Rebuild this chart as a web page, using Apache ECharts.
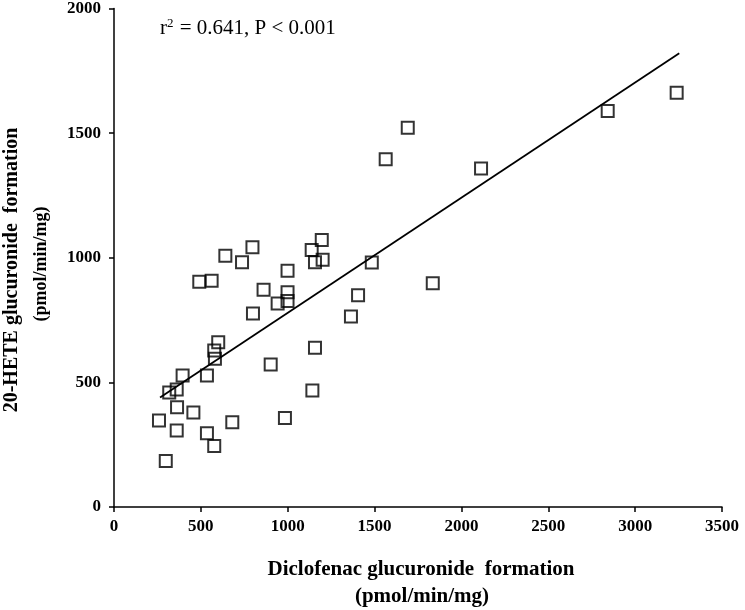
<!DOCTYPE html>
<html>
<head>
<meta charset="utf-8">
<script src="https://cdn.jsdelivr.net/npm/echarts@6/dist/echarts.min.js"></script>
<style>html,body{margin:0;padding:0;background:#fff;}#c{width:745px;height:610px;}</style>
</head>
<body>
<div id="c"></div>
<script>
// Diclofenac glucuronide formation (pmol/min/mg)
const diclofenac = [3239, 2842, 2113, 1691, 1564, 1484, 1835, 1405, 1364, 1196, 1138, 1157, 1201, 999, 861, 999, 942, 999, 797, 641, 737, 491, 562, 800, 1157, 1142, 902, 984, 600, 577, 581, 395, 535, 361, 318, 363, 457, 259, 681, 361, 535, 577, 298];
// 20-HETE glucuronide formation (pmol/min/mg)
const hete = [1662, 1589, 1358, 1522, 1395, 981, 898, 850, 764, 1071, 1031, 982, 992, 948, 872, 862, 816, 826, 1042, 1008, 982, 904, 908, 776, 639, 467, 572, 357, 661, 628, 595, 528, 528, 471, 459, 400, 379, 347, 340, 307, 296, 245, 185];
// regression line endpoints
const trendX = [265, 3254];
const trendY = [439, 1820];
const xTicks = [0, 500, 1000, 1500, 2000, 2500, 3000, 3500];
const yTicks = [0, 500, 1000, 1500, 2000];

const chart = echarts.init(document.getElementById('c'), null, {renderer: 'canvas'});
const serif = '"Liberation Serif", "Times New Roman", serif';
const axisCommon = {
  axisLine: {show: true, onZero: false, lineStyle: {color: '#000', width: 1.5}},
  axisTick: {show: true, inside: false, length: 5, lineStyle: {color: '#000', width: 1.5}},
  splitLine: {show: false}
};
const labelStyle = {color: '#000', fontFamily: serif, fontWeight: 'bold', fontSize: 17, formatter: v => String(v)};
chart.setOption({
  animation: false,
  backgroundColor: '#fff',
  grid: {left: 114, right: 23, top: 7, bottom: 103, containLabel: false},
  xAxis: Object.assign({type: 'value', min: xTicks[0], max: xTicks[xTicks.length-1], interval: 500}, axisCommon,
    {axisLabel: Object.assign({}, labelStyle, {margin: 11})}),
  yAxis: Object.assign({type: 'value', min: yTicks[0], max: yTicks[yTicks.length-1], interval: 500}, axisCommon,
    {axisLabel: Object.assign({}, labelStyle, {margin: 13})}),
  series: [
    {
      type: 'scatter',
      data: diclofenac.map((x, i) => [x, hete[i]]),
      symbol: 'rect',
      symbolSize: 12,
      itemStyle: {color: 'rgba(0,0,0,0)', borderColor: '#000', borderWidth: 2},
      z: 3
    },
    {
      type: 'line',
      data: trendX.map((x, i) => [x, trendY[i]]),
      showSymbol: false,
      symbol: 'none',
      lineStyle: {color: '#000', width: 1.8},
      z: 2
    }
  ],
  graphic: [
    {
      type: 'text', left: 160, top: 17,
      style: {
        text: '{r|r}{s|2}{r| = 0.641, P < 0.001}',
        rich: {
          r: {fontFamily: serif, fontSize: 21, fill: '#000'},
          s: {fontFamily: serif, fontSize: 13, fill: '#000', verticalAlign: 'top', padding: [0, 1, 9, 0]}
        }
      }
    },
    {
      type: 'text', x: 421, y: 570,
      style: {text: 'Diclofenac glucuronide  formation', fontFamily: serif, fontWeight: 'bold', fontSize: 21, fill: '#000', align: 'center', verticalAlign: 'middle'}
    },
    {
      type: 'text', x: 422, y: 597,
      style: {text: '(pmol/min/mg)', fontFamily: serif, fontWeight: 'bold', fontSize: 21, fill: '#000', align: 'center', verticalAlign: 'middle'}
    },
    {
      type: 'text', x: 12, y: 270, rotation: Math.PI / 2,
      style: {text: '20-HETE glucuronide  formation', fontFamily: serif, fontWeight: 'bold', fontSize: 20, fill: '#000', align: 'center', verticalAlign: 'middle'}
    },
    {
      type: 'text', x: 41, y: 264, rotation: Math.PI / 2,
      style: {text: '(pmol/min/mg)', fontFamily: serif, fontWeight: 'bold', fontSize: 18, fill: '#000', align: 'center', verticalAlign: 'middle'}
    }
  ]
});
</script>
</body>
</html>
